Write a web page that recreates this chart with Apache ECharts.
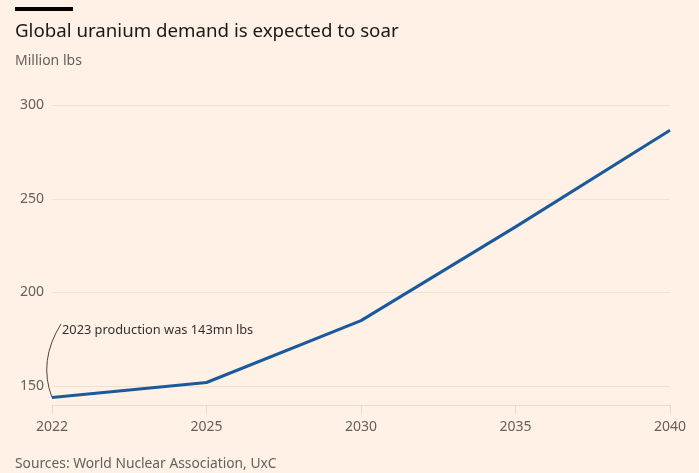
<!DOCTYPE html>
<html>
<head>
<meta charset="utf-8">
<script src="https://cdn.jsdelivr.net/npm/echarts@6/dist/echarts.min.js"></script>
<style>
html,body{margin:0;padding:0;background:#FFF1E5;}
#chart{width:699px;height:473px;}
</style>
</head>
<body>
<div id="chart"></div>
<script>
var years = ['2022', '2025', '2030', '2035', '2040'];
var demand = [144, 152, 185, 235, 286.5];
var yTicks = [150, 200, 250, 300];
var yMin = 140, yMax = 300;
var annotationText = '2023 production was 143mn lbs';
var annotationPointIndex = 0;
var annotationTextValue = 180;

var FONT = '"Noto Sans", "Open Sans", sans-serif';
var chart = echarts.init(document.getElementById('chart'), null, {renderer: 'canvas'});

var option = {
  backgroundColor: '#FFF1E5',
  animation: false,
  textStyle: {fontFamily: FONT},
  grid: {left: 52, right: 29, top: 105, bottom: 68, containLabel: false},
  xAxis: {
    type: 'category',
    data: years,
    boundaryGap: false,
    axisLine: {show: true, lineStyle: {color: '#e9dccf', width: 1}},
    axisTick: {show: true, alignWithLabel: true, length: 9, lineStyle: {color: '#e6d9cc'}},
    axisLabel: {color: '#66605c', fontSize: 14, margin: 15, fontFamily: FONT},
    splitLine: {show: false}
  },
  yAxis: {
    type: 'value',
    min: yMin,
    max: yMax,
    interval: 10,
    axisLine: {show: false},
    axisTick: {show: false},
    axisLabel: {
      color: '#66605c', fontSize: 14, margin: 8, fontFamily: FONT,
      formatter: function (v) { return yTicks.indexOf(v) >= 0 ? String(v) : ''; }
    },
    splitLine: {show: false}
  },
  series: [{
    type: 'line',
    data: demand,
    symbol: 'none',
    lineStyle: {color: '#1b5a9a', width: 3},
    z: 5,
    markLine: {
      silent: true,
      symbol: 'none',
      label: {show: false},
      lineStyle: {color: '#f2e1d2', width: 1, type: 'solid'},
      data: yTicks.map(function (t) { return {yAxis: t}; }),
      z: 1
    }
  }]
};
chart.setOption(option);

var p = chart.convertToPixel({gridIndex: 0}, [annotationPointIndex, demand[annotationPointIndex]]);
var t = chart.convertToPixel({gridIndex: 0}, [annotationPointIndex, annotationTextValue]);
var endX = p[0] + 9, endY = t[1] - 6;

chart.setOption({
  graphic: [
    {type: 'rect', left: 15, top: 7, shape: {width: 58, height: 4}, style: {fill: '#000000'}},
    {type: 'text', left: 15, top: 22, style: {text: 'Global uranium demand is expected to soar', fill: '#1a1817', font: '18.7px ' + FONT}},
    {type: 'text', left: 15, top: 54, style: {text: 'Million lbs', fill: '#66605c', font: '14px ' + FONT}},
    {type: 'text', left: 15, top: 457, style: {text: 'Sources: World Nuclear Association, UxC', fill: '#66605c', font: '13.8px ' + FONT}},
    {type: 'bezierCurve', shape: {x1: p[0], y1: p[1], cpx1: p[0] - 14, cpy1: (p[1] + endY) / 2, x2: endX, y2: endY},
     style: {stroke: '#4a4542', lineWidth: 1, fill: null}, z: 10},
    {type: 'text', x: endX + 1, y: t[1], style: {text: annotationText, fill: '#33302e', font: '12.8px ' + FONT, verticalAlign: 'middle'}, z: 10}
  ]
});
</script>
</body>
</html>
